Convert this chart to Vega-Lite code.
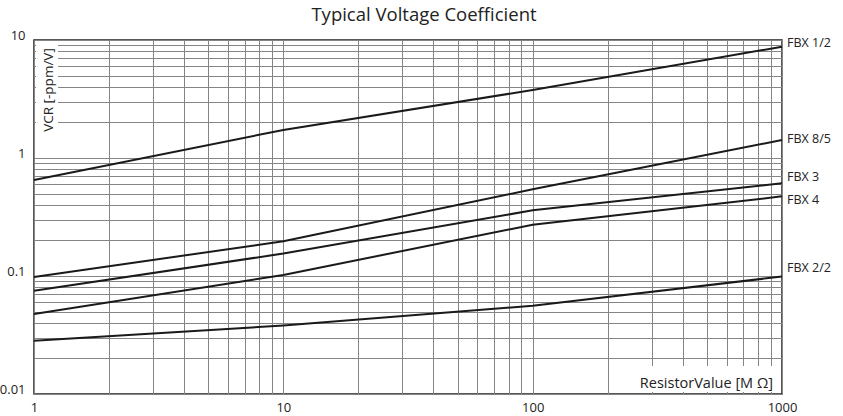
{
  "$schema": "https://vega.github.io/schema/vega-lite/v6.json",
  "autosize": {"type": "none"},
  "width": 748,
  "height": 354,
  "padding": {"left": 34, "top": 40, "right": 61, "bottom": 22},
  "background": "white",
  "title": {
    "text": "Typical Voltage Coefficient",
    "font": "Open Sans",
    "fontSize": 18.5,
    "fontWeight": "normal",
    "color": "#222222",
    "anchor": "middle",
    "frame": "group",
    "baseline": "alphabetic",
    "offset": 0,
    "dy": 10,
    "dx": 16
  },
  "config": {
    "view": {"stroke": "#222222", "strokeWidth": 1.5},
    "font": "Open Sans",
    "axis": {
      "domain": false,
      "ticks": false,
      "grid": true,
      "gridColor": "#858585",
      "gridWidth": 1,
      "labelFont": "Open Sans",
      "labelFontSize": 13,
      "labelColor": "#222222",
      "labelFlush": false,
      "labelOverlap": false,
      "labelBound": false
    }
  },
  "datasets": {
    "curves": [
      {"series": "FBX 1/2", "R": 1, "VCR": 0.65},
      {"series": "FBX 1/2", "R": 10, "VCR": 1.73},
      {"series": "FBX 1/2", "R": 100, "VCR": 3.77},
      {"series": "FBX 1/2", "R": 1000, "VCR": 8.77},
      {"series": "FBX 8/5", "R": 1, "VCR": 0.098},
      {"series": "FBX 8/5", "R": 10, "VCR": 0.197},
      {"series": "FBX 8/5", "R": 100, "VCR": 0.543},
      {"series": "FBX 8/5", "R": 1000, "VCR": 1.42},
      {"series": "FBX 3", "R": 1, "VCR": 0.075},
      {"series": "FBX 3", "R": 10, "VCR": 0.155},
      {"series": "FBX 3", "R": 100, "VCR": 0.36},
      {"series": "FBX 3", "R": 1000, "VCR": 0.61},
      {"series": "FBX 4", "R": 1, "VCR": 0.0477},
      {"series": "FBX 4", "R": 10, "VCR": 0.102},
      {"series": "FBX 4", "R": 100, "VCR": 0.272},
      {"series": "FBX 4", "R": 1000, "VCR": 0.473},
      {"series": "FBX 2/2", "R": 1, "VCR": 0.0283},
      {"series": "FBX 2/2", "R": 10, "VCR": 0.038},
      {"series": "FBX 2/2", "R": 100, "VCR": 0.056},
      {"series": "FBX 2/2", "R": 1000, "VCR": 0.099}
    ],
    "labels": [
      {"series": "FBX 1/2", "R": 1000, "labelVCR": 9.43},
      {"series": "FBX 8/5", "R": 1000, "labelVCR": 1.45},
      {"series": "FBX 3", "R": 1000, "labelVCR": 0.695},
      {"series": "FBX 4", "R": 1000, "labelVCR": 0.44},
      {"series": "FBX 2/2", "R": 1000, "labelVCR": 0.116}
    ],
    "single": [{"item": "box"}]
  },
  "layer": [
    {
      "data": {"name": "curves"},
      "mark": {"type": "line", "color": "#1a1a1a", "strokeWidth": 2},
      "encoding": {
        "x": {
          "field": "R",
          "type": "quantitative",
          "scale": {"type": "log", "domain": [1, 1000], "nice": false},
          "axis": {
            "title": null,
            "values": [1,2,3,4,5,6,7,8,9,10,20,30,40,50,60,70,80,90,100,200,300,400,500,600,700,800,900,1000],
            "labelExpr": "indexof([1,10,100,1000], datum.value) >= 0 ? format(datum.value, '~g') : ''",
            "labelPadding": 7,
            "labelBaseline": "top"
          }
        },
        "y": {
          "field": "VCR",
          "type": "quantitative",
          "scale": {"type": "log", "domain": [0.01, 10], "nice": false},
          "axis": {
            "title": null,
            "values": [0.01,0.02,0.03,0.04,0.05,0.06,0.07,0.08,0.09,0.1,0.2,0.3,0.4,0.5,0.6,0.7,0.8,0.9,1,2,3,4,5,6,7,8,9,10],
            "labelExpr": "indexof([0.01,0.1,1,10], datum.value) >= 0 ? format(datum.value, '~g') : ''",
            "labelPadding": 9,
            "labelBaseline": "middle",
            "labelOffset": -5
          }
        },
        "detail": {"field": "series"}
      }
    },
    {
      "data": {"name": "single"},
      "mark": {"type": "rect", "color": "white"},
      "encoding": {
        "x": {"datum": 1.019, "type": "quantitative"},
        "x2": {"datum": 1.248},
        "y": {"datum": 9.81, "type": "quantitative"},
        "y2": {"datum": 1.57}
      }
    },
    {
      "data": {"name": "single"},
      "mark": {"type": "rect", "color": "white"},
      "encoding": {
        "x": {"datum": 255, "type": "quantitative"},
        "x2": {"datum": 938},
        "y": {"datum": 0.01726, "type": "quantitative"},
        "y2": {"datum": 0.0104}
      }
    },
    {
      "data": {"name": "single"},
      "mark": {"type": "text", "text": "VCR [-ppm/V]", "angle": 270, "align": "center", "baseline": "middle", "fontSize": 13.5, "color": "#222222"},
      "encoding": {
        "x": {"datum": 1.145, "type": "quantitative"},
        "y": {"datum": 3.77, "type": "quantitative"}
      }
    },
    {
      "data": {"name": "single"},
      "mark": {"type": "text", "text": "ResistorValue [M Ω]", "align": "right", "baseline": "alphabetic", "fontSize": 14.5, "color": "#222222", "dx": -9, "dy": -6},
      "encoding": {
        "x": {"datum": 1000, "type": "quantitative"},
        "y": {"datum": 0.01, "type": "quantitative"}
      }
    },
    {
      "data": {"name": "labels"},
      "mark": {"type": "text", "align": "left", "baseline": "middle", "fontSize": 12.5, "color": "#222222", "dx": 5},
      "encoding": {
        "x": {"field": "R", "type": "quantitative"},
        "y": {"field": "labelVCR", "type": "quantitative"},
        "text": {"field": "series"}
      }
    }
  ]
}
